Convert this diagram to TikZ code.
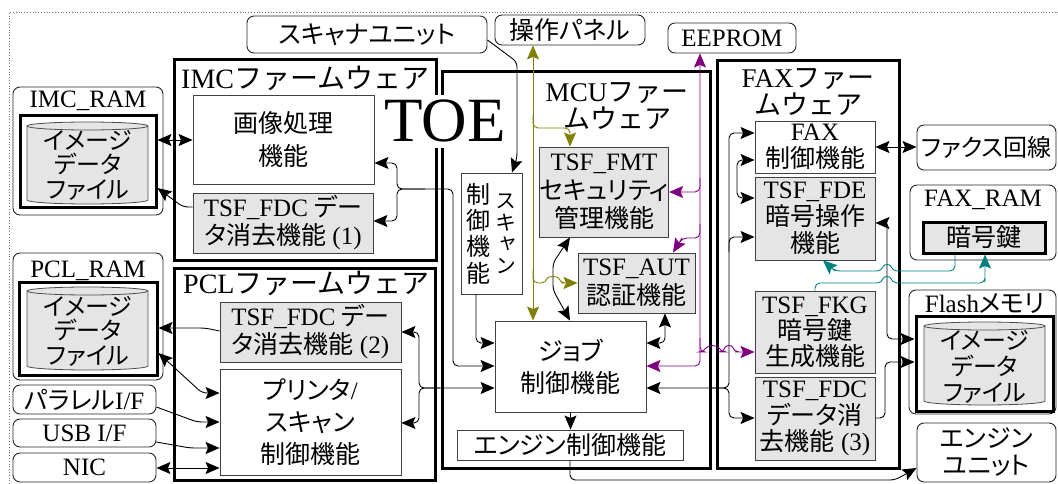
\documentclass[tikz,border=0pt]{standalone}
\usepackage{fontspec}
\setmainfont{Liberation Serif}
\newfontfamily\jp{Noto Sans CJK JP}[RawFeature={+palt}]
\newfontfamily\jq{Noto Sans CJK JP}
\newfontfamily\jpv{Noto Sans CJK JP}[RawFeature={+vert}]
\newcommand\J[1]{{\jp #1}}
\newcommand\K[1]{{\jq #1}}
\usetikzlibrary{arrows.meta,calc}
\definecolor{olv}{RGB}{128,128,0}
\definecolor{pur}{RGB}{128,0,128}
\definecolor{tl}{RGB}{0,128,128}
\lineskiplimit=-100pt\relax
\newcommand\cyl[4]{%
  \pgfmathsetmacro\rx{(#3-#1)/2}%
  \filldraw[fill=gray!20, draw=black!70, line width=0.8pt] (#1,#2+4) -- (#1,#4-4)
    arc[start angle=180,end angle=360,x radius=\rx pt,y radius=4pt] -- (#3,#2+4)
    arc[start angle=0,end angle=180,x radius=\rx pt,y radius=4pt] -- cycle;
  \draw[black!70, line width=0.8pt] (#1,#2+4) arc[start angle=180,end angle=360,x radius=\rx pt,y radius=4pt];}
\begin{document}
\begin{tikzpicture}[x=1pt,y=-1pt,
  txt/.style={font=\fontsize{25}{28}\selectfont, align=center, inner sep=0pt},
  box/.style={txt, draw=black!75, line width=0.9pt, fill=white},
  tsf/.style={box, fill=gray!20},
  ext/.style={box, draw=black!85, rounded corners=7pt},
  fw/.style={draw=black, line width=3pt, inner sep=0pt},
  hbox/.style={draw=black, line width=3pt, inner sep=0pt},
  ln/.style={line width=0.9pt},
  ar/.style={-{Stealth[length=14pt,width=12pt,inset=2.5pt]}},
  dar/.style={{Stealth[length=14pt,width=12pt,inset=2.5pt]}-{Stealth[length=14pt,width=12pt,inset=2.5pt]}},
  lab/.style={txt, anchor=base}]
\useasboundingbox (0,0) rectangle (1058,484);
\draw[black!55, dotted, line width=0.8pt] (9,484) -- (9,12) -- (1058,12);

% external units
\node[ext, minimum width=240pt, minimum height=37pt] (scanner) at (367,34.5) {\J{スキャナユニット}};
\node[ext, minimum width=150pt, minimum height=30pt] (panel) at (570,30) {\J{操作パネル}};
\node[ext, minimum width=128pt, minimum height=30pt] (eeprom) at (732,38) {EEPROM};

% firmware boxes
\node[fw, minimum width=262pt, minimum height=200pt] (imcfw) at (305,160) {};
\node[fw, minimum width=261pt, minimum height=212pt] (pclfw) at (304.5,374) {};
\node[fw, minimum width=268pt, minimum height=396pt] (mcufw) at (576,270) {};
\node[fw, minimum width=182pt, minimum height=407pt] (faxfw) at (808,264.5) {};

\node[txt, anchor=base west, font=\fontsize{28}{30}\selectfont] (imch) at (181,89) {IMC\K{ファームウェア}};
\node[txt, anchor=base west, font=\fontsize{28}{30}\selectfont] (pclh) at (183,293) {PCL\K{ファームウェア}};
\node[txt, font=\fontsize{27}{27}\selectfont] (mcuh) at (617,106) {MCU\K{ファー}\\\K{ムウェア}};
\node[txt, font=\fontsize{27}{27}\selectfont] (faxh) at (808,91.5) {FAX\K{ファー}\\\K{ムウェア}};

% IMC RAM
\node[ext, minimum width=150pt, minimum height=128pt] (imcram) at (88,151) {};
\node[lab] (imcraml) at (88,108) {IMC\_RAM};
\node[hbox, minimum width=136pt, minimum height=91pt] (imcin) at (88,161.5) {};
\cyl{27}{122}{148}{204}
\node[txt, font=\fontsize{24}{24.5}\selectfont] (imcdata) at (88,165) {\J{イメージ}\\\J{データ}\\\J{ファイル}};

% PCL RAM
\node[ext, minimum width=150pt, minimum height=127pt] (pclram) at (88,316.5) {};
\node[lab] (pclraml) at (88,277) {PCL\_RAM};
\node[hbox, minimum width=138pt, minimum height=93pt] (pclin) at (88,328.5) {};
\cyl{27}{287}{148}{370}
\node[txt, font=\fontsize{24}{24.5}\selectfont] (pcldata) at (88,331) {\J{イメージ}\\\J{データ}\\\J{ファイル}};

% interfaces
\node[ext, minimum width=143pt, minimum height=29pt] (par) at (84.5,399.5) {\J{パラレル}I/F};
\node[ext, minimum width=143pt, minimum height=28pt] (usb) at (84.5,433) {USB I/F};
\node[ext, minimum width=143pt, minimum height=29pt] (nic) at (84.5,467.5) {NIC};

% IMC functions
\node[box, minimum width=181pt, minimum height=89pt, font=\fontsize{25}{33}\selectfont] (gazo) at (283.5,139.5) {\J{画像処理}\\\J{機能}};
\node[tsf, minimum width=180pt, minimum height=60pt] (fdc1) at (283,223) {TSF\_FDC \J{デー}\\\J{タ消去機能} (1)};

% PCL functions
\node[tsf, minimum width=181pt, minimum height=60pt] (fdc2) at (310.5,332) {TSF\_FDC \J{デー}\\\J{タ消去機能} (2)};
\node[box, minimum width=181pt, minimum height=106pt, font=\fontsize{25}{32}\selectfont] (printer) at (310.5,422) {\J{プリンタ}/\\\J{スキャン}\\\J{制御機能}};

% MCU functions
\node[box, minimum width=61pt, minimum height=121pt] (scanctl) at (491.5,233.5) {};
\node[txt, font=\fontsize{24}{26.3}\selectfont] (scanl) at (478,233.5) {\J{制}\\\J{御}\\\J{機}\\\J{能}};
\node[txt, font=\fontsize{21}{21.5}\selectfont] (scanr) at (506,234) {{\jpv ス}\\{\jpv キ}\\{\jpv ャ}\\{\jpv ン}};
\node[tsf, minimum width=128pt, minimum height=90pt, font=\fontsize{25}{28.5}\selectfont] (fmt) at (604,192) {TSF\_FMT\\\J{セキュリティ}\\\J{管理機能}};
\node[tsf, minimum width=117pt, minimum height=60pt, font=\fontsize{25}{29}\selectfont] (aut) at (636.5,283) {TSF\_AUT\\\J{認証機能}};
\node[box, minimum width=151pt, minimum height=91pt, font=\fontsize{25}{32}\selectfont] (job) at (570.5,366.5) {\J{ジョブ}\\\J{制御機能}};
\node[box, minimum width=226pt, minimum height=30pt] (engctl) at (570,445) {\J{エンジン制御機能}};

% FAX functions
\node[box, minimum width=120pt, minimum height=52pt, font=\fontsize{25}{27}\selectfont] (faxctl) at (815,147) {FAX\\\J{制御機能}};
\node[tsf, minimum width=120pt, minimum height=83pt, font=\fontsize{25}{27}\selectfont] (fde) at (815,218.5) {TSF\_FDE\\\J{暗号操作}\\\J{機能}};
\node[tsf, minimum width=120pt, minimum height=82pt, font=\fontsize{25}{26}\selectfont] (fkg) at (815,332) {TSF\_FKG\\\J{暗号鍵}\\\J{生成機能}};
\node[tsf, minimum width=120pt, minimum height=83pt, font=\fontsize{25}{26.5}\selectfont] (fdc3) at (815,418.5) {TSF\_FDC\\\J{データ消}\\\J{去機能} (3)};

% right side
\node[ext, minimum width=139pt, minimum height=45pt, font=\fontsize{24}{28}\selectfont] (faxline) at (986.5,147.5) {\J{ファクス回線}};
\node[ext, minimum width=146pt, minimum height=75pt] (faxram) at (983,222.5) {};
\node[lab] (faxraml) at (983,207) {FAX\_RAM};
\node[hbox, fill=gray!20, txt, minimum width=122pt, minimum height=31pt] (key) at (984,237.5) {\J{暗号鍵}};
\node[ext, minimum width=147pt, minimum height=124pt] (flash) at (982.5,352) {};
\node[lab] (flashl) at (985,312) {Flash\J{メモリ}};
\node[hbox, minimum width=137pt, minimum height=95pt] (flashin) at (984.5,363.5) {};
\cyl{924}{322}{1045}{405}
\node[txt, font=\fontsize{24}{26}\selectfont] (flashdata) at (984.5,367) {\J{イメージ}\\\J{データ}\\\J{ファイル}};
\node[ext, minimum width=139pt, minimum height=59pt, font=\fontsize{25}{27}\selectfont] (engunit) at (986.5,452.5) {\J{エンジン}\\\J{ユニット}};

% ---- connectors: black
\draw[ln,dar] (imcin.east |- 0,140) -- (gazo.west |- 0,140);
\draw[ln,ar] (fdc1.west |- 0,207) [rounded corners=5pt] -- (183,207) -- ($(183,207)!.5!(imcin.east |- 0,188)$) [sharp corners] -- (imcin.east |- 0,188);
\draw[ln,dar] (gazo.east |- 0,163) [rounded corners=5pt] -- (397,163) -- (397,189) -- (453,189) -- (453,366) -- (470,366) [sharp corners] -- (job.west |- 0,366);
\draw[ln,ar] (425,189) [rounded corners=5pt] -- (397,189) -- (397,221) -- (385,221) [sharp corners] -- (fdc1.east |- 0,221);
\draw[ln,ar] (scanctl.south -| 476,0) [rounded corners=5pt] -- (476,343) -- (485,343) [sharp corners] -- (job.west |- 0,343);
\draw[ln,dar] (fdc2.east |- 0,332) [rounded corners=5pt] -- (419,332) -- (419,388) -- (460,388) [sharp corners] -- (job.west |- 0,388);
\draw[ln,ar] (440,388) [rounded corners=5pt] -- (419,388) -- (419,423) -- (410,423) [sharp corners] -- (printer.east |- 0,423);
\draw[ln,ar] (fdc2.west |- 0,331) [rounded corners=5pt] -- (205,328) -- (185,328) [sharp corners] -- (pclin.east |- 0,328);
\draw[ln,dar] (pclin.east |- 0,353) [rounded corners=5pt] -- (202,393) -- (211,393) [sharp corners] -- (printer.west |- 0,393);
\draw[ln,ar] (par.east |- 0,407) [rounded corners=5pt] -- (197,422) -- (208,422) [sharp corners] -- (printer.west |- 0,422);
\draw[ln,ar] (usb.east |- 0,442) [rounded corners=5pt] -- (190,448) -- (205,448) [sharp corners] -- (printer.west |- 0,448);
\draw[ln,dar] (nic.east |- 0,468) -- (printer.west |- 0,468);
\draw[ln,ar] (scanner.east |- 0,40) [rounded corners=5pt] -- (517,62) -- (517,158) -- ($(517,158)!.5!(scanctl.north -| 512,0)$) [sharp corners] -- (scanctl.north -| 512,0);
\draw[ln,dar] (fmt.south -| 570,0) [rounded corners=5pt] -- (553,263) -- (553,290) -- ($(553,290)!.5!(job.north -| 570,0)$) [sharp corners] -- (job.north -| 570,0);
\draw[ln,dar] (aut.south -| 665,0) [rounded corners=5pt] -- (665,343) -- (656,343) [sharp corners] -- (job.east |- 0,343);
\draw[ln,ar] (job.south) -- (engctl.north -| job.south);
\draw[ln,ar] (engctl.south -| 570,0) [rounded corners=5pt] -- (570,480) -- (895,480) -- ($(895,480)!.5!(engunit.west |- 0,468)$) [sharp corners] -- (engunit.west |- 0,468);
\draw[ln,dar] (job.east |- 0,388) [rounded corners=5pt] -- (729,388) -- (729,133) -- (742,133) [sharp corners] -- (faxctl.west |- 0,133);
\draw[ln,ar] (729,252) [rounded corners=5pt] -- (729,237) -- (742,237) [sharp corners] -- (fde.west |- 0,237);
\draw[ln,ar] (712,388) [rounded corners=5pt] -- (729,388) -- (729,418) -- (742,418) [sharp corners] -- (fdc3.west |- 0,418);
\draw[ln,dar] (faxctl.west |- 0,160) [rounded corners=5pt] -- (737,160) -- (737,198) -- (746,198) [sharp corners] -- (fde.west |- 0,198);
\draw[ln,dar] (fde.east |- 0,223) [rounded corners=5pt] -- (887,223) -- (887,339) -- (901,339) [sharp corners] -- (flashin.west |- 0,339);
\draw[ln,ar] (fdc3.east |- 0,418) [rounded corners=5pt] -- (885,418) -- (885,362) -- (900,362) [sharp corners] -- (flashin.west |- 0,362);
\draw[ln,dar] (faxctl.east |- 0,147) -- (faxline.west |- 0,147);

% olive
\draw[ln,olv,dar] (panel.south -| 533,0) -- (job.north -| 533,0);
\draw[ln,olv,ar] (533,115) [rounded corners=5pt] -- (533,128) -- (570,128) -- (570,136) [sharp corners] -- (fmt.north -| 570,0);
\draw[ln,olv,ar] (533,270) [rounded corners=5pt] -- (533,283) -- (546,283) .. controls (548,276) and (558,276) .. (560,283) -- (566,283) [sharp corners] -- (aut.west |- 0,283);

% purple
\draw[ln,pur,dar] (eeprom.south -| 700,0) [rounded corners=5pt] -- (700,366) -- (675,366) [sharp corners] -- (job.east |- 0,366);
\draw[ln,pur,ar] (700,178) [rounded corners=5pt] -- (700,192) -- (688,192) [sharp corners] -- (fmt.east |- 0,192);
\draw[ln,pur,ar] (700,224) [rounded corners=5pt] -- (700,238) -- (682,238) -- ($(682,238)!.3!(aut.north -| 673,0)$) [sharp corners] -- (aut.north -| 673,0);
\draw[ln,pur,ar] (700,338) [rounded corners=5pt] -- (700,352) -- (704,352) .. controls (708,345) and (717,345) .. (721,352) -- (724,352) .. controls (726,345) and (732,345) .. (734,352) -- (740,352) [sharp corners] -- (fkg.west |- 0,352);

% teal
\draw[ln,tl,ar] (key.south -| 955,0) [rounded corners=5pt] -- (955,271) -- (892,271) .. controls (890,264) and (884,264) .. (882,271) -- (835,271) -- ($(835,271)!.3!(fde.south -| 823,0)$) [sharp corners] -- (fde.south -| 823,0);
\draw[ln,tl,ar] (fkg.north -| 815,0) [rounded corners=5pt] -- (815,283) -- (882,283) .. controls (884,276) and (890,276) .. (892,283) -- (985,283) -- (985,277) [sharp corners] -- (key.south -| 985,0);

% TOE label
\node[fill=white, inner xsep=2pt, inner ysep=5pt, anchor=base west, font=\fontsize{63}{63}\selectfont] (toe) at (382,142) {TOE};
\end{tikzpicture}
\end{document}
